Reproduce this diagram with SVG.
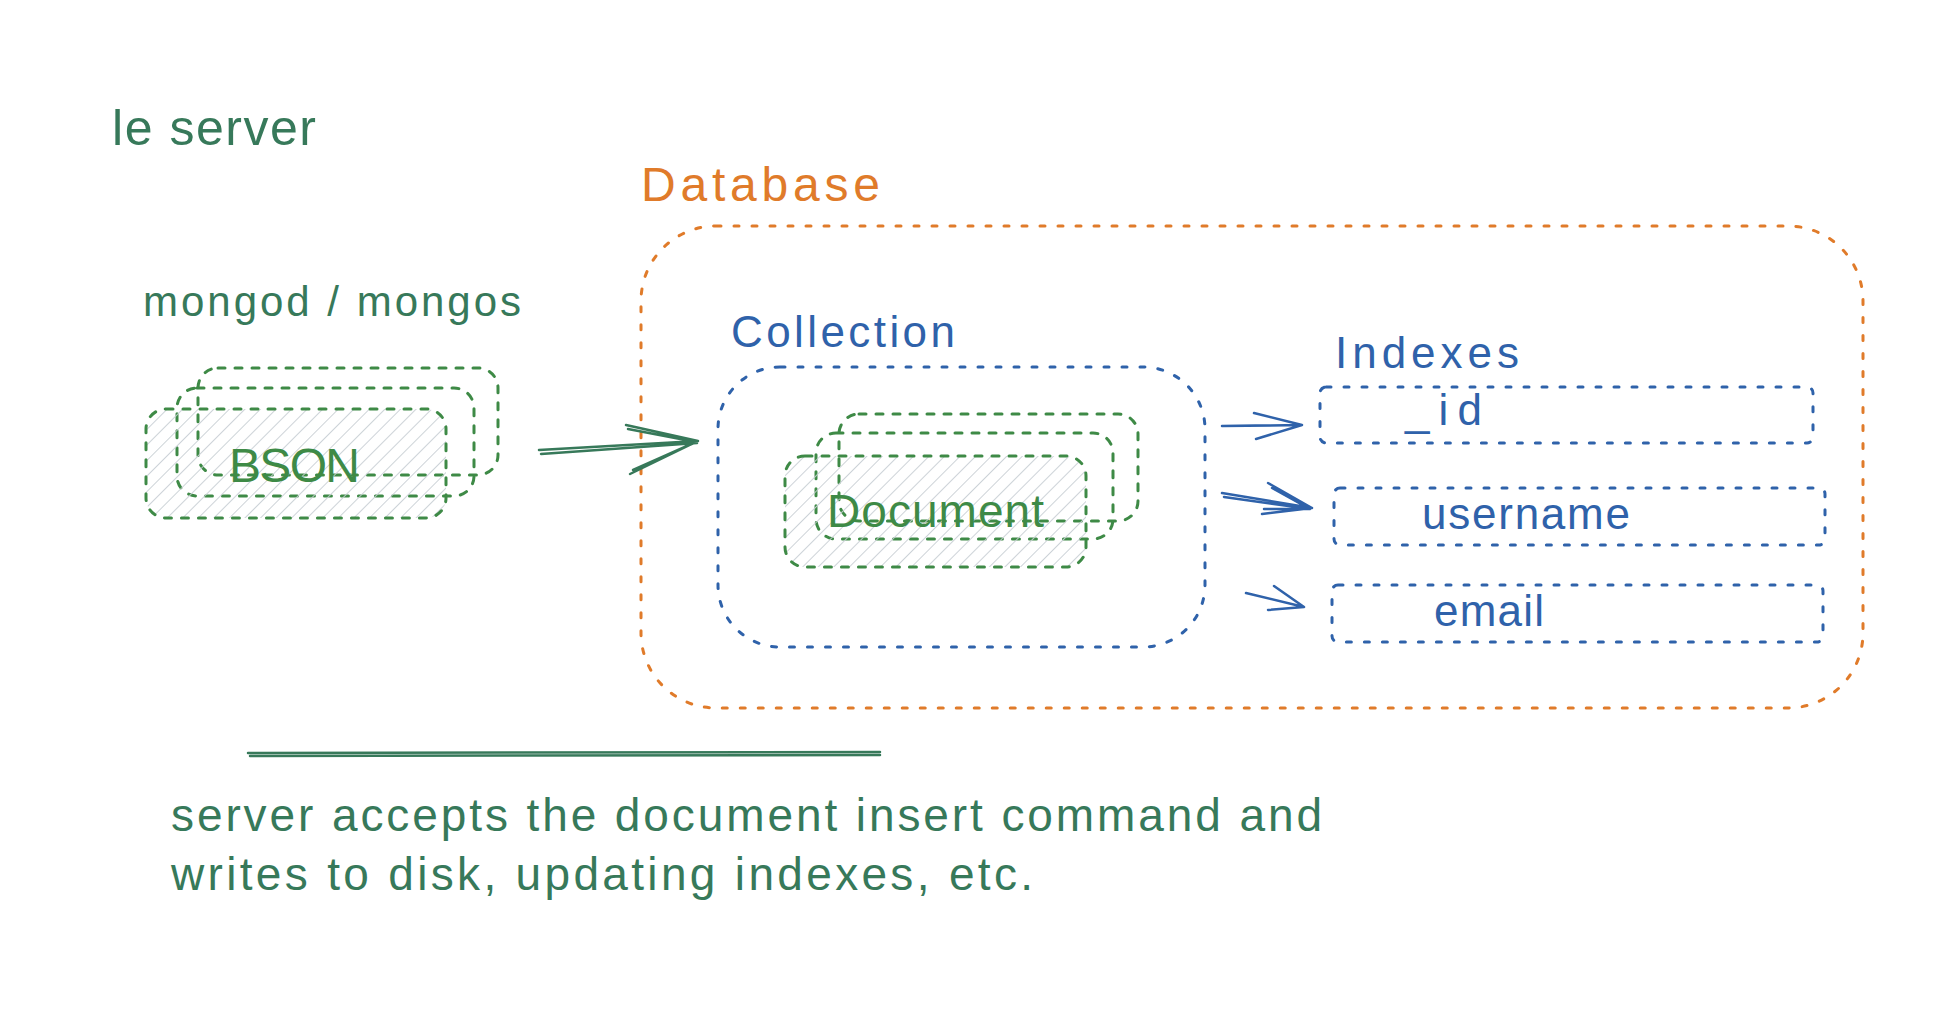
<svg xmlns="http://www.w3.org/2000/svg" width="1944" height="1032" viewBox="0 0 1944 1032">
<defs>
<pattern id="hatch" patternUnits="userSpaceOnUse" width="11" height="11" patternTransform="rotate(45)">
<line x1="0" y1="0" x2="0" y2="11" stroke="#c8ced4" stroke-width="1.8"/>
</pattern>
<style>
.t{font-family:"Liberation Sans",Arial,sans-serif;}
.teal{fill:#37795a;}
.green{fill:#3e8a46;}
.blue{fill:#2f62aa;}
.orange{fill:#e07b2a;}
.orect{fill:none;stroke:#e07b2a;stroke-width:3;stroke-dasharray:5 13;stroke-linecap:round;}
.brect{fill:none;stroke:#2f62aa;stroke-width:3;stroke-dasharray:5 13;stroke-linecap:round;}
.grect{fill:none;stroke:#3e8a46;stroke-width:3;stroke-dasharray:7 10;stroke-linecap:round;}
.hfill{fill:url(#hatch);stroke:none;}
.ga{fill:none;stroke:#37795a;stroke-width:2.5;stroke-linecap:round;stroke-linejoin:round;}
.ba{fill:none;stroke:#2f62aa;stroke-width:2.5;stroke-linecap:round;stroke-linejoin:round;}
</style>
</defs>
<rect width="1944" height="1032" fill="#ffffff"/>

<g id="title-le-server">
<text class="t teal" x="112" y="145" font-size="50" textLength="204" lengthAdjust="spacing">le server</text>
</g>

<g id="label-mongod">
<text class="t teal" x="143" y="316" font-size="42" textLength="378" lengthAdjust="spacing">mongod / mongos</text>
</g>

<g id="bson-stack">
<rect class="grect" x="198" y="368" width="300" height="107" rx="20"/>
<rect class="grect" x="177" y="388" width="297" height="108" rx="20"/>
<rect class="hfill" x="146" y="409" width="300" height="109" rx="20"/>
<rect class="grect" x="146" y="409" width="300" height="109" rx="20"/>
<text class="t green" x="229" y="482" font-size="48" textLength="131" lengthAdjust="spacing">BSON</text>
</g>

<g id="database">
<rect class="orect" x="641" y="226" width="1222" height="482" rx="75"/>
<text class="t orange" x="641" y="201" font-size="48" textLength="239" lengthAdjust="spacing">Database</text>
</g>

<g id="collection">
<rect class="brect" x="718" y="367" width="487" height="280" rx="62"/>
<text class="t blue" x="731" y="347" font-size="44" textLength="224" lengthAdjust="spacing">Collection</text>
</g>

<g id="document-stack">
<rect class="grect" x="839" y="414" width="299" height="107" rx="20"/>
<rect class="grect" x="816" y="433" width="297" height="106" rx="20"/>
<rect class="hfill" x="785" y="456" width="301" height="111" rx="20"/>
<rect class="grect" x="785" y="456" width="301" height="111" rx="20"/>
<text class="t green" x="827" y="527" font-size="46" textLength="217" lengthAdjust="spacing">Document</text>
</g>

<g id="indexes">
<text class="t blue" x="1335" y="368" font-size="44" textLength="184" lengthAdjust="spacing">Indexes</text>
</g>

<g id="index-id">
<rect class="brect" x="1320" y="387" width="493" height="56" rx="6"/>
<text class="t blue" x="1405" y="425" font-size="44" textLength="77" lengthAdjust="spacing">_id</text>
</g>

<g id="index-username">
<rect class="brect" x="1334" y="488" width="491" height="57" rx="6"/>
<text class="t blue" x="1422" y="529" font-size="44" textLength="208" lengthAdjust="spacing">username</text>
</g>

<g id="index-email">
<rect class="brect" x="1332" y="585" width="491" height="57" rx="6"/>
<text class="t blue" x="1434" y="626" font-size="44" textLength="110" lengthAdjust="spacing">email</text>
</g>

<g id="connectors">
<path class="ga" d="M539 450 L698 441 M541 454 L697 443 M626 425 L698 441 L630 474 M628 429 L696 442 L633 470"/>
<path class="ba" d="M1222 426 L1302 425 M1254 413 L1302 425 L1256 439"/>
<path class="ba" d="M1222 493 L1312 508 M1224 497 L1310 509 M1268 483 L1312 508 L1262 514 M1272 488 L1310 509 M1264 509 L1310 509"/>
<path class="ba" d="M1246 593 L1304 607 M1274 586 L1304 607 L1268 610"/>
</g>

<g id="divider">
<path class="ga" d="M248 753 L880 752 M250 756 L880 755"/>
</g>

<g id="caption">
<text class="t teal" x="171" y="831" font-size="46" textLength="1151" lengthAdjust="spacing">server accepts the document insert command and</text>
<text class="t teal" x="171" y="890" font-size="46" textLength="862" lengthAdjust="spacing">writes to disk, updating indexes, etc.</text>
</g>
</svg>
